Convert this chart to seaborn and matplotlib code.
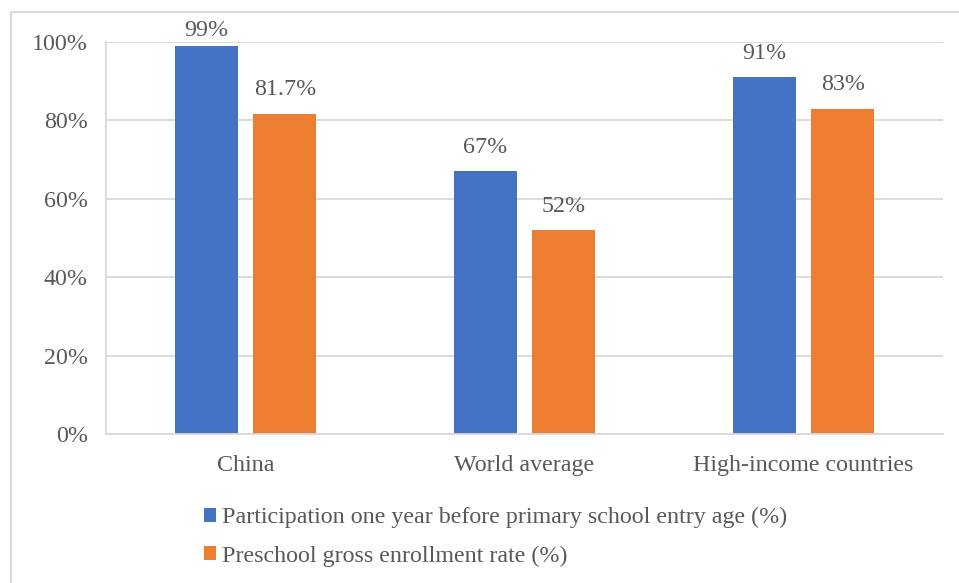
import matplotlib
matplotlib.use("Agg")
import matplotlib.pyplot as plt
import seaborn as sns
import pandas as pd
from matplotlib.patches import Patch
from matplotlib.lines import Line2D

categories = ["China", "World average", "High-income countries"]
series_names = ["Participation one year before primary school entry age (%)",
                "Preschool gross enrollment rate (%)"]
participation = [99, 67, 91]
enrollment = [81.7, 52, 83]
label_texts = [["99%", "67%", "91%"], ["81.7%", "52%", "83%"]]
yticks = [0, 20, 40, 60, 80, 100]
ytick_labels = ["0%", "20%", "40%", "60%", "80%", "100%"]
colors = ["#4472C4", "#ED7D31"]

sns.set_theme(style="white")
plt.rcParams["font.family"] = ["Liberation Serif", "DejaVu Serif"]
TXT = "#595959"
FS = 17.3

df = pd.DataFrame({
    "cat": categories * 2,
    "val": participation + enrollment,
    "series": [series_names[0]] * 3 + [series_names[1]] * 3,
})

fig = plt.figure(figsize=(9.59, 5.83), dpi=100)
ax = fig.add_axes([106 / 959, 1 - 434 / 583, 837 / 959, 392 / 583])

sns.barplot(data=df, x="cat", y="val", hue="series", palette=colors,
            width=0.566, ax=ax, legend=False, saturation=1, errorbar=None)

# narrow bars around their centers to leave a gap
new_w = 63 / 279
for p in ax.patches:
    c = p.get_x() + p.get_width() / 2
    p.set_width(new_w)
    p.set_x(c - new_w / 2)
    p.set_edgecolor("none")

ax.set_xlim(-0.5, 2.5)
ax.set_ylim(0, 100)
ax.set_yticks(yticks)
ax.set_yticklabels(ytick_labels)
ax.set_xlabel("")
ax.set_ylabel("")
ax.yaxis.grid(True, color="#D9D9D9", linewidth=1.3)
ax.set_axisbelow(True)
for s in ["top", "right"]:
    ax.spines[s].set_visible(False)
for s in ["left", "bottom"]:
    ax.spines[s].set_color("#D9D9D9")
    ax.spines[s].set_linewidth(1.3)
ax.tick_params(axis="y", length=0, pad=13, labelsize=FS, labelcolor=TXT)
ax.tick_params(axis="x", length=0, pad=15, labelsize=FS, labelcolor=TXT)

# data labels
px_per_unit = 392 / 100
vals_by_series = [participation, enrollment]
for si, vals in enumerate(vals_by_series):
    for ci, v in enumerate(vals):
        offs = -1 if si == 0 else 1
        xc = ci + offs * (0.566 / 4)
        yc = min(v + 24 / px_per_unit, 100 + 12 / px_per_unit)
        ax.text(xc, yc, label_texts[si][ci], ha="center", va="center",
                fontsize=FS, color=TXT, clip_on=False)

handles = [Patch(facecolor=colors[0], edgecolor="none"),
           Patch(facecolor=colors[1], edgecolor="none")]
leg = fig.legend(handles, series_names, loc="upper left",
                 bbox_to_anchor=(204 / 959, 1 - 507 / 583),
                 frameon=False, fontsize=FS, handlelength=0.5,
                 handleheight=0.5, handletextpad=0.25, labelspacing=0.72,
                 borderaxespad=0, borderpad=0)
for t in leg.get_texts():
    t.set_color(TXT)

# outer border (left and top only visible)
fig.add_artist(Line2D([11 / 959, 11 / 959], [0, 1 - 12 / 583],
                      transform=fig.transFigure, color="#D9D9D9", linewidth=1.5))
fig.add_artist(Line2D([11 / 959, 1], [1 - 12 / 583, 1 - 12 / 583],
                      transform=fig.transFigure, color="#D9D9D9", linewidth=1.5))

fig.savefig("out.png", dpi=100)
